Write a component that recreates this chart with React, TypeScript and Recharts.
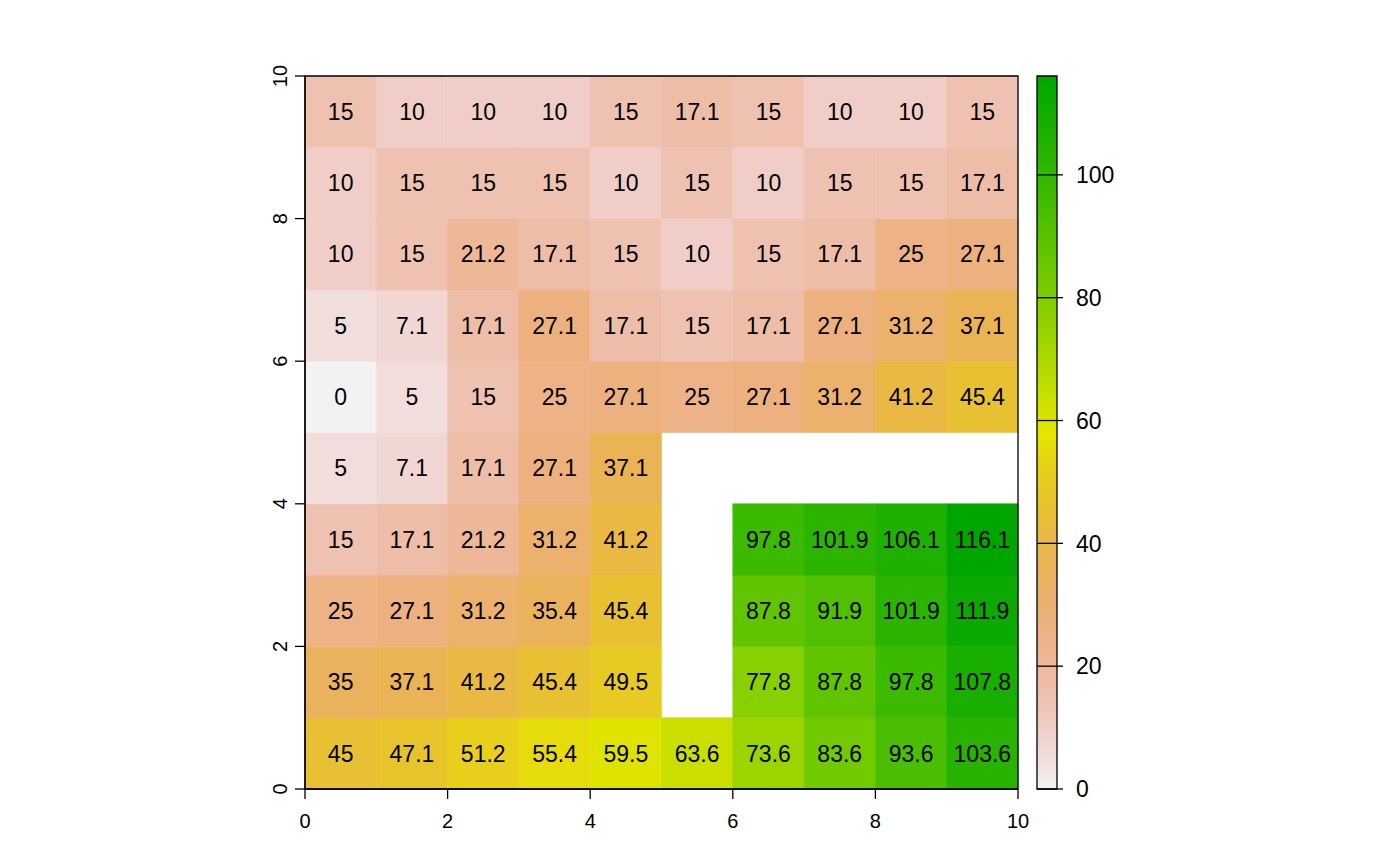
import React from 'react';
import { ScatterChart, Scatter, XAxis, YAxis, ReferenceArea, ReferenceLine } from 'recharts';

// Grid values, one array per row (row index = lower y edge of the cell)
const row9: (number | null)[] = [15, 10, 10, 10, 15, 17.1, 15, 10, 10, 15];
const row8: (number | null)[] = [10, 15, 15, 15, 10, 15, 10, 15, 15, 17.1];
const row7: (number | null)[] = [10, 15, 21.2, 17.1, 15, 10, 15, 17.1, 25, 27.1];
const row6: (number | null)[] = [5, 7.1, 17.1, 27.1, 17.1, 15, 17.1, 27.1, 31.2, 37.1];
const row5: (number | null)[] = [0, 5, 15, 25, 27.1, 25, 27.1, 31.2, 41.2, 45.4];
const row4: (number | null)[] = [5, 7.1, 17.1, 27.1, 37.1, null, null, null, null, null];
const row3: (number | null)[] = [15, 17.1, 21.2, 31.2, 41.2, null, 97.8, 101.9, 106.1, 116.1];
const row2: (number | null)[] = [25, 27.1, 31.2, 35.4, 45.4, null, 87.8, 91.9, 101.9, 111.9];
const row1: (number | null)[] = [35, 37.1, 41.2, 45.4, 49.5, null, 77.8, 87.8, 97.8, 107.8];
const row0: (number | null)[] = [45, 47.1, 51.2, 55.4, 59.5, 63.6, 73.6, 83.6, 93.6, 103.6];
const rows = [row0, row1, row2, row3, row4, row5, row6, row7, row8, row9];

const axisTicks = [0, 2, 4, 6, 8, 10];
const legendTicks = [0, 20, 40, 60, 80, 100];
const zMin = 0;
const zMax = 116.1;

const FONT = '"Liberation Sans", Arial, Helvetica, sans-serif';

// reversed terrain.colors palette (R)
function hsvToHex(h: number, s: number, v: number): string {
  const i = Math.floor(h * 6);
  const f = h * 6 - i;
  const p = v * (1 - s);
  const q = v * (1 - f * s);
  const t = v * (1 - (1 - f) * s);
  let r = 0, g = 0, b = 0;
  switch (((i % 6) + 6) % 6) {
    case 0: r = v; g = t; b = p; break;
    case 1: r = q; g = v; b = p; break;
    case 2: r = p; g = v; b = t; break;
    case 3: r = p; g = q; b = v; break;
    case 4: r = t; g = p; b = v; break;
    default: r = v; g = p; b = q; break;
  }
  const hx = (x: number) => Math.round(x * 255).toString(16).padStart(2, '0');
  return '#' + hx(r) + hx(g) + hx(b);
}
function colorFor(val: number): string {
  const t = Math.min(1, Math.max(0, (val - zMin) / (zMax - zMin)));
  const u = 1 - t; // terrain order: 0 = green, 1 = white
  if (u <= 0.5) {
    const f = u / 0.5;
    return hsvToHex(4 / 12 + (2 / 12 - 4 / 12) * f, 1, 0.65 + 0.25 * f);
  }
  const f = (u - 0.5) / 0.5;
  return hsvToHex(2 / 12 * (1 - f), 1 - f, 0.9 + 0.05 * f);
}

const gradStops = Array.from({ length: 61 }, (_, i) => i / 60);

const YTick = (props: any) => {
  const { x, y, payload } = props;
  return (
    <text x={x} y={y} transform={`rotate(-90, ${x}, ${y})`} textAnchor="middle" fontSize={20} fontFamily={FONT} fill="#000">
      {payload.value}
    </text>
  );
};

export default function App() {
  const cells: React.ReactNode[] = [];
  rows.forEach((row, yi) => {
    row.forEach((v, xi) => {
      if (v === null) return;
      const c = colorFor(v);
      cells.push(
        <ReferenceArea
          key={`c-${xi}-${yi}`}
          x1={xi}
          x2={xi + 1}
          y1={yi}
          y2={yi + 1}
          fill={c}
          fillOpacity={1}
          stroke={c}
          strokeWidth={0.6}
          ifOverflow="visible"
          label={{ value: String(v), position: 'center', fontSize: 23, fill: '#000', fontFamily: FONT }}
        />
      );
    });
  });

  return (
    <div style={{ position: 'absolute', left: 0, top: 0, width: 1400, height: 866, background: '#fff' }}>
      <svg width={0} height={0} style={{ position: 'absolute' }}>
        <defs>
          <linearGradient id="terrainGrad" x1="0" y1="1" x2="0" y2="0">
            {gradStops.map((s) => (
              <stop key={s} offset={s} stopColor={colorFor(zMin + s * (zMax - zMin))} />
            ))}
          </linearGradient>
        </defs>
      </svg>
      <div style={{ position: 'absolute', left: 0, top: 0 }}>
        <ScatterChart width={1400} height={866} margin={{ top: 76, right: 382, bottom: 17, left: 245 }}>
          <XAxis
            type="number"
            dataKey="x"
            domain={[0, 10]}
            ticks={axisTicks}
            allowDataOverflow
            height={60}
            axisLine={{ stroke: '#000', strokeWidth: 1.3 }}
            tickLine={{ stroke: '#000', strokeWidth: 1.3 }}
            tickSize={10}
            tickMargin={15}
            tick={{ fontSize: 20, fill: '#000', fontFamily: FONT }}
          />
          <YAxis
            type="number"
            dataKey="y"
            domain={[0, 10]}
            ticks={axisTicks}
            allowDataOverflow
            width={60}
            axisLine={{ stroke: '#000', strokeWidth: 1.3 }}
            tickLine={{ stroke: '#000', strokeWidth: 1.3 }}
            tickSize={10}
            tickMargin={8}
            tick={<YTick />}
          />
          <Scatter data={[]} isAnimationActive={false} />
          {cells}
          <ReferenceArea x1={0} x2={10} y1={0} y2={10} fill="none" fillOpacity={0} stroke="#000" strokeWidth={1.3} ifOverflow="visible" />
        </ScatterChart>
      </div>
      <div style={{ position: 'absolute', left: 1000, top: 0 }}>
        <ScatterChart width={200} height={866} margin={{ top: 76, right: 43, bottom: 77, left: 37 }}>
          <XAxis type="number" dataKey="x" domain={[0, 1]} hide allowDataOverflow />
          <YAxis
            type="number"
            dataKey="y"
            orientation="right"
            domain={[zMin, zMax]}
            ticks={legendTicks}
            allowDataOverflow
            width={100}
            axisLine={false}
            tickLine={{ stroke: '#000', strokeWidth: 1.3 }}
            tickSize={6}
            tickMargin={13}
            tick={{ fontSize: 23, fill: '#000', fontFamily: FONT, textAnchor: 'start' }}
          />
          <Scatter data={[]} isAnimationActive={false} />
          <ReferenceArea x1={0} x2={1} y1={zMin} y2={zMax} fill="url(#terrainGrad)" fillOpacity={1} stroke="#000" strokeWidth={1.3} ifOverflow="visible" />
          {legendTicks.map((t) => (
            <ReferenceLine key={t} y={t} stroke="#000" strokeWidth={1.3} ifOverflow="visible" />
          ))}
        </ScatterChart>
      </div>
    </div>
  );
}
